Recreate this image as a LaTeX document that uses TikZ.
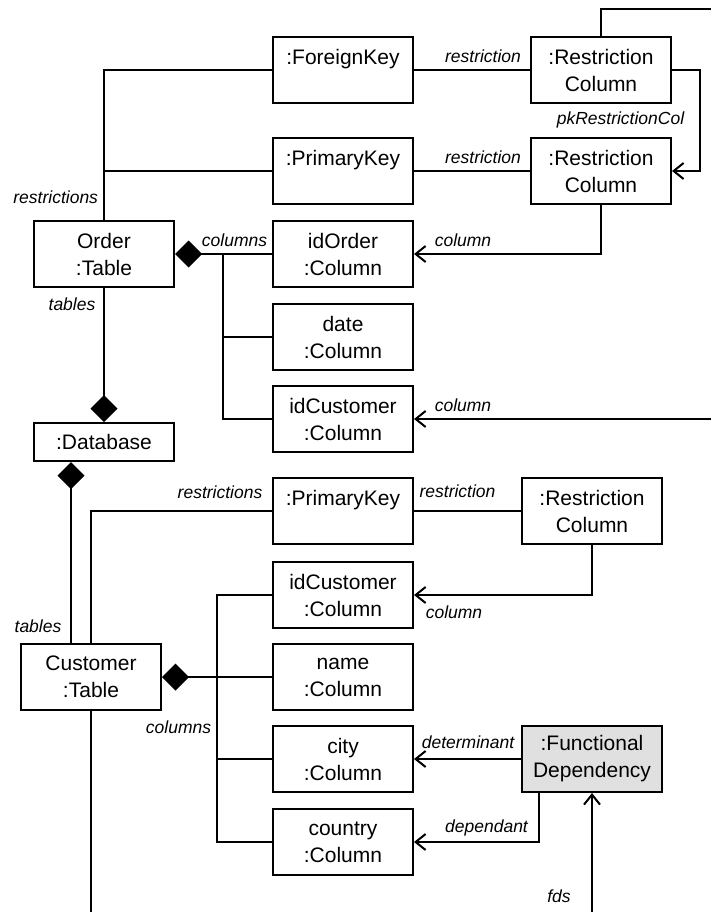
\documentclass[tikz,border=0pt]{standalone}
\usepackage{fontspec}
\setmainfont{Liberation Sans}
\usetikzlibrary{arrows.meta,calc}
\definecolor{fdgray}{RGB}{224,224,224}
\begin{document}
\begin{tikzpicture}[x=1pt,y=-1pt,
  line width=2pt,
  obj/.style={draw, line width=2pt, minimum width=140pt, minimum height=66pt,
    inner sep=0pt, align=center, font=\fontsize{21}{27}\selectfont},
  lab/.style={font=\fontsize{17.5}{20}\selectfont\itshape, inner sep=0pt},
  nav/.style={-{Straight Barb[length=10pt,width=16pt]}},
  comp/.style={{Diamond[length=27pt,width=27pt]}-},
  compend/.style={-{Diamond[length=27pt,width=27pt]}},
]
\useasboundingbox (0,0) rectangle (711,912);
\clip (0,0) rectangle (711,912);

% objects of the Order table
\node[obj] (fk) at (343,70) {:ForeignKey\\\phantom{Column}};
\node[obj] (rc1) at (601,70) {:Restriction\\Column};
\node[obj] (pk1) at (343,171) {:PrimaryKey\\\phantom{Column}};
\node[obj] (rc2) at (601,171) {:Restriction\\Column};
\node[obj] (order) at (104,254) {Order\\:Table};
\node[obj] (idorder) at (343,254) {idOrder\\:Column};
\node[obj] (date) at (343,337) {date\\:Column};
\node[obj] (idcust1) at (343,419) {idCustomer\\:Column};

% database
\node[obj, minimum height=38pt] (db) at (104,442) {:Database};

% objects of the Customer table
\node[obj] (pk2) at (343,511) {:PrimaryKey\\\phantom{Column}};
\node[obj] (rc3) at (592,511) {:Restriction\\Column};
\node[obj] (idcust2) at (343,595) {idCustomer\\:Column};
\node[obj] (cust) at (91,677) {Customer\\:Table};
\node[obj] (name) at (343,677) {name\\:Column};
\node[obj] (city) at (343,759) {city\\:Column};
\node[obj] (country) at (343,842) {country\\:Column};
\node[obj, fill=fdgray] (fd) at (592,759) {:Functional\\Dependency};

% Order: restrictions
\draw (order.north) |- (fk.west);
\draw (order.north |- pk1.west) -- (pk1.west);
\draw (fk.east) -- (rc1.west);
\draw (pk1.east) -- (rc2.west);
\draw[nav] (rc1.east) -- ++(28,0) |- (rc2.east);
\draw[nav] (rc1.north) -- ++(0,-27) -- ++(130,0) |- (idcust1.east);
\draw[nav] (rc2.south) |- (idorder.east);

% Order: columns
\coordinate (otrunk) at (223,254);
\draw[comp] (order.east) -- (idorder.west);
\draw (otrunk) |- (idcust1.west);
\draw (otrunk |- date.west) -- (date.west);

% Database: tables
\draw[compend] (order.south) -- (db.north);
\draw[comp] ($(db.south west)+(38,0)$) -- ($(cust.north west)+(51,0)$);

% Customer: restrictions
\draw (cust.north) |- (pk2.west);
\draw (pk2.east) -- (rc3.west);
\draw[nav] (rc3.south) |- (idcust2.east);

% Customer: columns
\coordinate (ctrunk) at (217,677);
\draw[comp] (cust.east) -- (name.west);
\draw (idcust2.west) -| (ctrunk |- country.west) -- (country.west);
\draw (ctrunk |- city.west) -- (city.west);

% functional dependency
\draw[nav] (fd.west) -- (city.east);
\draw[nav] ($(fd.south west)+(18,0)$) |- (country.east);
\draw[nav] (cust.south) -- ++(0,260) -| (fd.south);

% role names
\node[lab, anchor=east] (l1) at (99,197) {restrictions};
\node[lab] (l2) at (234.5,240) {columns};
\node[lab] (l3) at (72,304) {tables};
\node[lab] (l4) at (483,56) {restriction};
\node[lab] (l5) at (483,157) {restriction};
\node[lab] (l6) at (620.5,120) {pkRestrictionCol};
\node[lab] (l7) at (463,240) {column};
\node[lab] (l8) at (463,405) {column};
\node[lab] (l9) at (38,626) {tables};
\node[lab] (l10) at (220,492) {restrictions};
\node[lab] (l11) at (457.5,491) {restriction};
\node[lab] (l12) at (454,612) {column};
\node[lab] (l13) at (178.5,727) {columns};
\node[lab] (l14) at (468,742) {determinant};
\node[lab] (l15) at (486.5,828) {dependant};
\node[lab] (l16) at (559,896) {fds};
\end{tikzpicture}
\end{document}
